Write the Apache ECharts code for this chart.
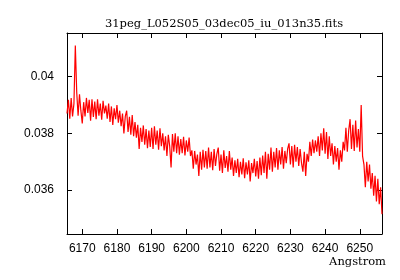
<!DOCTYPE html>
<html><head><meta charset="utf-8">
<script src="https://cdn.jsdelivr.net/npm/echarts@6/dist/echarts.min.js"></script>
<style>html,body{margin:0;padding:0;background:#fff}#c{width:400px;height:280px}</style>
</head><body><div id="c"></div>
<script>
const titleText = "31peg_L052S05_03dec05_iu_013n35.fits";
const xLabel = "Angstrom";
const xTicks = [6170, 6180, 6190, 6200, 6210, 6220, 6230, 6240, 6250];
const yTicks = [0.036, 0.038, 0.04];
const waveStart = 6165.6;
const waveStep = 0.4;
const flux = [
0.03870,0.03918,0.03852,0.03925,0.03860,0.03905,0.04110,0.03945,0.03862,0.03938,
0.03880,0.03835,0.03910,0.03860,0.03925,0.03872,0.03918,0.03845,0.03920,0.03858,
0.03912,0.03850,0.03920,0.03862,0.03905,0.03848,0.03915,0.03870,0.03898,0.03852,
0.03905,0.03840,0.03895,0.03830,0.03888,0.03850,0.03900,0.03838,0.03880,0.03825,
0.03870,0.03800,0.03860,0.03880,0.03805,0.03858,0.03795,0.03865,0.03790,0.03840,
0.03785,0.03830,0.03745,0.03820,0.03770,0.03828,0.03760,0.03815,0.03748,0.03810,
0.03752,0.03820,0.03745,0.03825,0.03760,0.03810,0.03742,0.03818,0.03755,0.03800,
0.03740,0.03790,0.03720,0.03795,0.03755,0.03680,0.03798,0.03735,0.03800,0.03730,
0.03790,0.03725,0.03780,0.03730,0.03788,0.03722,0.03775,0.03735,0.03785,0.03720,
0.03740,0.03675,0.03738,0.03690,0.03725,0.03650,0.03735,0.03672,0.03742,0.03680,
0.03738,0.03675,0.03750,0.03680,0.03735,0.03670,0.03745,0.03685,0.03728,0.03750,
0.03668,0.03725,0.03660,0.03740,0.03678,0.03720,0.03665,0.03738,0.03672,0.03715,
0.03650,0.03705,0.03660,0.03710,0.03645,0.03700,0.03655,0.03712,0.03642,0.03698,
0.03655,0.03705,0.03630,0.03695,0.03660,0.03710,0.03648,0.03702,0.03640,0.03715,
0.03652,0.03722,0.03660,0.03735,0.03640,0.03728,0.03672,0.03750,0.03665,0.03735,
0.03680,0.03748,0.03672,0.03740,0.03690,0.03752,0.03675,0.03738,0.03695,0.03745,
0.03765,0.03690,0.03755,0.03680,0.03760,0.03700,0.03752,0.03685,0.03745,0.03695,
0.03665,0.03735,0.03650,0.03728,0.03700,0.03770,0.03720,0.03778,0.03730,0.03775,
0.03735,0.03790,0.03720,0.03800,0.03740,0.03818,0.03728,0.03805,0.03710,0.03790,
0.03720,0.03765,0.03690,0.03755,0.03700,0.03748,0.03672,0.03740,0.03700,0.03770,
0.03740,0.03820,0.03735,0.03810,0.03850,0.03745,0.03830,0.03738,0.03845,0.03750,
0.03815,0.03735,0.03900,0.03720,0.03690,0.03610,0.03700,0.03630,0.03690,0.03605,
0.03660,0.03580,0.03650,0.03560,0.03640,0.03550,0.03610,0.03515
];
const xMin = 6165.6, xMax = 6256.4, yMin = 0.03445, yMax = 0.04154;

const data = flux.map((v, i) => [waveStart + i * waveStep, v]);
const chart = echarts.init(document.getElementById('c'), null, {renderer: 'canvas'});
const lineStyle = {color: '#000', width: 1};
const tickCommon = {show: true, inside: true, length: 5, lineStyle: lineStyle};
chart.setOption({
  animation: false,
  backgroundColor: '#fff',
  title: {text: titleText, left: 219, top: 13, textAlign: 'center',
    textStyle: {fontFamily: 'DejaVu Serif', fontSize: 11.5, fontWeight: 'normal', color: '#000'}},
  grid: {left: 67, right: 18, top: 33, bottom: 46, containLabel: false},
  xAxis: [
    {type: 'value', min: xMin, max: xMax, position: 'bottom',
     name: xLabel, nameLocation: 'end', nameGap: 4,
     nameTextStyle: {fontFamily: 'DejaVu Serif', fontSize: 11.5, color: '#000', align: 'right', verticalAlign: 'top', padding: [22, 0, 0, 0]},
     axisLine: {show: true, onZero: false, lineStyle: lineStyle},
     axisTick: Object.assign({customValues: xTicks}, tickCommon),
     axisLabel: {customValues: xTicks, color: '#000', fontFamily: 'Liberation Sans', fontSize: 12, margin: 9,
       formatter: v => String(Math.round(v))},
     splitLine: {show: false}},
    {type: 'value', min: xMin, max: xMax, position: 'top',
     axisLine: {show: true, onZero: false, lineStyle: lineStyle},
     axisTick: Object.assign({customValues: xTicks}, tickCommon),
     axisLabel: {show: false}, splitLine: {show: false}}
  ],
  yAxis: [
    {type: 'value', min: yMin, max: yMax, position: 'left',
     axisLine: {show: true, onZero: false, lineStyle: lineStyle},
     axisTick: Object.assign({customValues: yTicks}, tickCommon),
     axisLabel: {customValues: yTicks, color: '#000', fontFamily: 'Liberation Sans', fontSize: 12, margin: 13,
       formatter: v => String(+v.toFixed(4))},
     splitLine: {show: false}},
    {type: 'value', min: yMin, max: yMax, position: 'right',
     axisLine: {show: true, onZero: false, lineStyle: lineStyle},
     axisTick: Object.assign({customValues: yTicks}, tickCommon),
     axisLabel: {show: false}, splitLine: {show: false}}
  ],
  series: [{
    type: 'line', data: data, xAxisIndex: 0, yAxisIndex: 0,
    showSymbol: false, symbol: 'none',
    lineStyle: {color: '#ff0000', width: 1.2}
  }]
});
</script></body></html>
